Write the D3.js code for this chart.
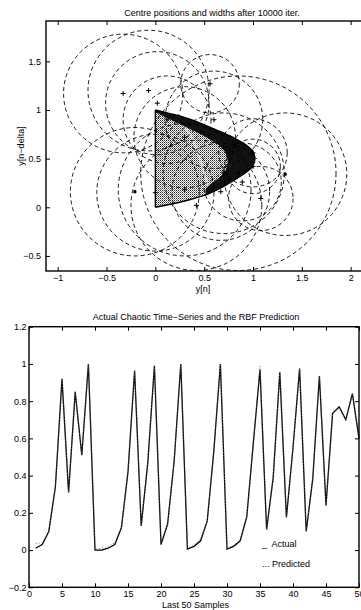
<!DOCTYPE html>
<html>
<head>
<meta charset="utf-8">
<script src="https://cdn.jsdelivr.net/npm/d3@7"></script>
<style>
html, body { margin: 0; padding: 0; background: #fff; }
svg { display: block; font-family: "Liberation Sans", Arial, Helvetica, sans-serif; }
</style>
</head>
<body>
<svg id="chart" width="361" height="610"></svg>
<script>
// ---- top panel: RBF centres (y[n], y[n-delta]) and their widths ----
const centreX = [-0.33, -0.07, 0.02, 0.12, 0.56, 0.60, 0.30, 0.85, 1.33, 0.70, 0.42, -0.21, 0.00, 0.30, 1.00, 1.00, 0.89, 0.67, 1.08];
const centreY = [1.17, 1.20, 1.07, 0.90, 1.27, 0.90, 0.72, 0.35, 0.34, 0.35, 0.02, 0.16, 0.15, 0.18, 0.56, 0.42, 0.26, 0.16, 0.09];
const widths  = [0.61, 0.62, 0.53, 0.45, 0.30, 0.50, 0.52, 1.00, 0.63, 0.62, 0.67, 0.66, 0.60, 0.68, 0.35, 0.28, 0.40, 0.50, 0.33];
const markers = ['+', '+', '+', '+', '+', '+', '+', '+', '*', '+', '+', '*', '+', '+', '+', '+', '+', '+', '+'];

// outline of the scattered attractor points
const edgeX = [0, 0.14, 0.28, 0.41, 0.52, 0.66, 0.79, 0.93, 1.00, 1.02, 1.00, 0.93, 0.84, 0.69, 0.52, 0.28, 0];
const edgeY = [1.00, 0.965, 0.93, 0.885, 0.84, 0.78, 0.72, 0.64, 0.57, 0.50, 0.43, 0.36, 0.30, 0.21, 0.13, 0.06, 0];
// inner side of the dense (dark) band
const bandX = [0, 0.28, 0.52, 0.69, 0.74, 0.71, 0.62, 0.52];
const bandY = [0.98, 0.84, 0.72, 0.60, 0.48, 0.36, 0.28, 0.19];
// lighter streak inside the sparse part
const streakX = [0.26, 0.37, 0.45, 0.50, 0.55];
const streakY = [0.88, 0.72, 0.52, 0.35, 0.18];

const topXTicks = [-1, -0.5, 0, 0.5, 1, 1.5, 2];
const topYTicks = [-0.5, 0, 0.5, 1, 1.5];

// ---- bottom panel: last 50 samples ----
const actual = [0.01, 0.03, 0.10, 0.34, 0.92, 0.31, 0.85, 0.51, 1.00, 0.00,
                0.00, 0.01, 0.03, 0.12, 0.42, 0.965, 0.13, 0.47, 0.99, 0.03,
                0.14, 0.48, 1.00, 0.005, 0.02, 0.05, 0.155, 0.53, 1.00, 0.005,
                0.02, 0.05, 0.18, 0.58, 0.97, 0.11, 0.39, 0.955, 0.175, 0.55,
                0.975, 0.10, 0.385, 0.935, 0.24, 0.735, 0.77, 0.70, 0.84, 0.60];
const predicted = [0.035, 0.04, 0.10, 0.34, 0.92, 0.31, 0.85, 0.51, 1.00, 0.005,
                   0.01, 0.02, 0.04, 0.12, 0.42, 0.965, 0.13, 0.47, 0.99, 0.035,
                   0.14, 0.48, 1.00, 0.01, 0.03, 0.06, 0.155, 0.53, 1.00, 0.01,
                   0.025, 0.05, 0.18, 0.58, 0.99, 0.11, 0.39, 0.955, 0.175, 0.55,
                   0.975, 0.10, 0.385, 0.935, 0.24, 0.73, 0.76, 0.70, 0.84, 0.60];
const bottomXTicks = [0, 5, 10, 15, 20, 25, 30, 35, 40, 45, 50];
const bottomYTicks = [-0.2, 0, 0.2, 0.4, 0.6, 0.8, 1, 1.2];
const legendX = 35.3;
const legendY = [0.015, -0.09];
const legendText = ['_  Actual', '... Predicted'];

const FONT = '"Liberation Sans", Arial, Helvetica, sans-serif';
const svg = d3.select('#chart');
const fmt = d3.format('');

const xT = d3.scaleLinear().domain([-1.12, 2.28]).range([46, 378]);
const yT = d3.scaleLinear().domain([-0.655, 1.915]).range([271, 21]);
const xB = d3.scaleLinear().domain([0, 50]).range([29, 359]);
const yB = d3.scaleLinear().domain([-0.2, 1.2]).range([587.3, 326.7]);

function drawFrame(x, y, xTicks, yTicks, padX, padY) {
    const [x0, x1] = x.range();
    const [y0, y1] = y.range();
    const axes = [
        [d3.axisBottom(x).tickValues(xTicks).tickPadding(padX).tickFormat(fmt), `translate(0,${y0})`],
        [d3.axisTop(x).tickValues(xTicks).tickFormat(() => ''), `translate(0,${y1})`],
        [d3.axisLeft(y).tickValues(yTicks).tickPadding(padY).tickFormat(fmt), `translate(${x0},0)`],
        [d3.axisRight(y).tickValues(yTicks).tickFormat(() => ''), `translate(${x1},0)`]
    ];
    axes.forEach(([ax, tr]) => {
        const g = svg.append('g').attr('transform', tr).call(ax.tickSize(-4));
        g.attr('font-size', 9).attr('font-family', FONT);
        g.select('.domain').remove();
        g.selectAll('line').attr('stroke', '#000').attr('stroke-width', 1);
        g.selectAll('text').attr('fill', '#000');
    });
    svg.append('rect').attr('x', x0).attr('y', y1).attr('width', x1 - x0).attr('height', y0 - y1)
        .attr('fill', 'none').attr('stroke', '#000').attr('stroke-width', 1.4);
}

// ---------- top panel ----------
const defs = svg.append('defs');
defs.append('clipPath').attr('id', 'clipTop').append('rect')
    .attr('x', 46).attr('y', 21).attr('width', 332).attr('height', 250);
const pat = defs.append('pattern').attr('id', 'stipple').attr('patternUnits', 'userSpaceOnUse')
    .attr('width', 2).attr('height', 2);
pat.append('rect').attr('x', 0).attr('y', 0).attr('width', 1).attr('height', 1).attr('fill', '#222');
pat.append('rect').attr('x', 1).attr('y', 1).attr('width', 1).attr('height', 1).attr('fill', '#888');

const pt = d3.line().x(d => xT(d[0])).y(d => yT(d[1])).curve(d3.curveCatmullRom.alpha(0.5));
const edge = edgeX.map((v, i) => [v, edgeY[i]]);
const band = bandX.map((v, i) => [v, bandY[i]]);
const cut = edgeX.length - 2; // lower end of the dense band on the outer edge
const bandPoly = edge.slice(0, cut).concat(band.slice().reverse());

const gTop = svg.append('g').attr('clip-path', 'url(#clipTop)');
gTop.append('path').attr('d', pt(edge) + 'Z').attr('fill', 'url(#stipple)');
gTop.append('path').attr('d', pt(streakX.map((v, i) => [v, streakY[i]])))
    .attr('fill', 'none').attr('stroke', '#fff').attr('stroke-width', 2.5).attr('stroke-opacity', 0.55);
gTop.append('path').attr('d', pt(bandPoly) + 'Z').attr('fill', '#111');
gTop.append('path').attr('d', pt(edge)).attr('fill', 'none').attr('stroke', '#000').attr('stroke-width', 1.4);
gTop.append('line').attr('x1', xT(0)).attr('x2', xT(0)).attr('y1', yT(0)).attr('y2', yT(1))
    .attr('stroke', '#000').attr('stroke-width', 1.4);

const idx = d3.range(centreX.length);
gTop.append('g').selectAll('ellipse').data(idx).join('ellipse')
    .attr('cx', i => xT(centreX[i])).attr('cy', i => yT(centreY[i]))
    .attr('rx', i => xT(widths[i]) - xT(0)).attr('ry', i => yT(0) - yT(widths[i]))
    .attr('fill', 'none').attr('stroke', '#000').attr('stroke-width', 0.9)
    .attr('stroke-dasharray', '4,3');
gTop.append('g').selectAll('path').data(idx).join('path')
    .attr('transform', i => `translate(${xT(centreX[i])},${yT(centreY[i])})`)
    .attr('d', i => markers[i] === '+' ? 'M-2.5,0H2.5M0,-2.5V2.5' : 'M-1.6,0H1.6M0,-1.6V1.6M-1.2,-1.2L1.2,1.2M-1.2,1.2L1.2,-1.2')
    .attr('fill', 'none').attr('stroke', '#000').attr('stroke-width', i => markers[i] === '+' ? 1 : 1.3);

drawFrame(xT, yT, topXTicks, topYTicks, 4, 5);

svg.append('text').attr('x', 212).attr('y', 15.5).attr('text-anchor', 'middle')
    .attr('font-size', 9).text('Centre positions and widths after 10000 iter.');
svg.append('text').attr('x', 203).attr('y', 292).attr('text-anchor', 'middle')
    .attr('font-size', 9).text('y[n]');
svg.append('text').attr('transform', 'translate(23.5,146) rotate(-90)').attr('text-anchor', 'middle')
    .attr('font-size', 9).text('y[n\u2212delta]');

// ---------- bottom panel ----------
const samples = d3.range(1, actual.length + 1);
const line = (vals) => d3.line().x((d, i) => xB(samples[i])).y(d => yB(d))(vals);
svg.append('path').attr('d', line(actual)).attr('fill', 'none')
    .attr('stroke', '#000').attr('stroke-width', 1.3).attr('stroke-linejoin', 'miter');
svg.append('path').attr('d', line(predicted)).attr('fill', 'none')
    .attr('stroke', '#666').attr('stroke-width', 0.8).attr('stroke-dasharray', '1,2');

drawFrame(xB, yB, bottomXTicks, bottomYTicks, 3.5, 2.5);

svg.selectAll('text.legend').data(legendText).join('text').attr('class', 'legend')
    .attr('x', xB(legendX)).attr('y', (d, i) => yB(legendY[i]))
    .attr('font-size', 9).style('white-space', 'pre').text(d => d);

svg.append('text').attr('x', 196).attr('y', 319.5).attr('text-anchor', 'middle')
    .attr('font-size', 9).text('Actual Chaotic Time\u2212Series and the RBF Prediction');
svg.append('text').attr('x', 195.5).attr('y', 607.5).attr('text-anchor', 'middle')
    .attr('font-size', 9).text('Last 50 Samples');
</script>
</body>
</html>
